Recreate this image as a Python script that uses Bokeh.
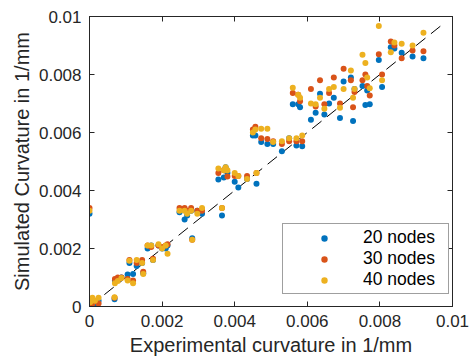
from bokeh.plotting import figure
from bokeh.models import Range1d, LinearAxis, FixedTicker, Legend, LegendItem
from bokeh.embed import file_html
from bokeh.resources import INLINE

# ---- data ----
exp_x = [0.00000, 0.00002, 0.00008, 0.00015, 0.00025, 0.00069, 0.00070, 0.00078,
         0.00088, 0.00105, 0.00110, 0.00120, 0.00130, 0.00145, 0.00148, 0.00160,
         0.00170, 0.00175, 0.00190, 0.00200, 0.00210, 0.00215, 0.00248, 0.00262,
         0.00269, 0.00280, 0.00283, 0.00297, 0.00310, 0.00355, 0.00365, 0.00370,
         0.00375, 0.00380, 0.00400, 0.00410, 0.00434, 0.00450, 0.00457, 0.00460,
         0.00473, 0.00490, 0.00506, 0.00530, 0.00550, 0.00560, 0.00570, 0.00575,
         0.00580, 0.00586, 0.00610, 0.00623, 0.00635, 0.00647, 0.00660, 0.00673,
         0.00690, 0.00700, 0.00720, 0.00726, 0.00730, 0.00752, 0.00760, 0.00765,
         0.00772, 0.00797, 0.00806, 0.00830, 0.00840, 0.00860, 0.00890, 0.00920]

sim_20 = [0.00320, 0.00010, 0.00020, 0.00010, 0.00020, 0.00025, 0.00090, 0.00095,
          0.00100, 0.00110, 0.00150, 0.00112, 0.00140, 0.00150, 0.00115, 0.00200,
          0.00210, 0.00160, 0.00210, 0.00200, 0.00200, 0.00210, 0.00325, 0.00300,
          0.00314, 0.00330, 0.00235, 0.00330, 0.00320, 0.00438, 0.00314, 0.00445,
          0.00480, 0.00460, 0.00430, 0.00410, 0.00440, 0.00590, 0.00590, 0.00423,
          0.00567, 0.00560, 0.00560, 0.00535, 0.00580, 0.00697, 0.00555, 0.00697,
          0.00687, 0.00553, 0.00644, 0.00668, 0.00734, 0.00662, 0.00700, 0.00720,
          0.00650, 0.00776, 0.00790, 0.00640, 0.00750, 0.00760, 0.00695, 0.00745,
          0.00697, 0.00850, 0.00757, 0.00894, 0.00890, 0.00875, 0.00862, 0.00856]

sim_30 = [0.00340, 0.00005, 0.00010, 0.00020, 0.00010, 0.00030, 0.00095, 0.00100,
          0.00100, 0.00095, 0.00160, 0.00090, 0.00150, 0.00160, 0.00120, 0.00210,
          0.00205, 0.00165, 0.00210, 0.00205, 0.00210, 0.00215, 0.00340, 0.00340,
          0.00330, 0.00340, 0.00230, 0.00330, 0.00330, 0.00460, 0.00340, 0.00470,
          0.00470, 0.00448, 0.00450, 0.00450, 0.00450, 0.00610, 0.00620, 0.00460,
          0.00580, 0.00578, 0.00570, 0.00560, 0.00570, 0.00736, 0.00570, 0.00730,
          0.00708, 0.00570, 0.00750, 0.00690, 0.00780, 0.00697, 0.00736, 0.00790,
          0.00700, 0.00820, 0.00780, 0.00687, 0.00740, 0.00780, 0.00800, 0.00760,
          0.00728, 0.00870, 0.00800, 0.00914, 0.00900, 0.00856, 0.00883, 0.00880]

sim_40 = [0.00330, 0.00015, 0.00030, 0.00020, 0.00030, 0.00032, 0.00080, 0.00088,
          0.00098, 0.00090, 0.00158, 0.00080, 0.00160, 0.00150, 0.00112, 0.00210,
          0.00210, 0.00160, 0.00215, 0.00200, 0.00210, 0.00182, 0.00330, 0.00330,
          0.00320, 0.00330, 0.00230, 0.00320, 0.00340, 0.00476, 0.00340, 0.00470,
          0.00480, 0.00470, 0.00460, 0.00450, 0.00440, 0.00600, 0.00610, 0.00460,
          0.00613, 0.00613, 0.00567, 0.00570, 0.00580, 0.00754, 0.00580, 0.00730,
          0.00720, 0.00590, 0.00700, 0.00697, 0.00720, 0.00682, 0.00750, 0.00757,
          0.00685, 0.00750, 0.00814, 0.00720, 0.00750, 0.00868, 0.00840, 0.00790,
          0.00753, 0.00967, 0.00780, 0.00877, 0.00910, 0.00906, 0.00900, 0.00944]

series_names = ["20 nodes", "30 nodes", "40 nodes"]
series_colors = ["#0072BD", "#D95319", "#EDB120"]

ref_line_x = [0.0, 0.00975]
ref_line_y = [0.0, 0.00975]

tick_values = [0.0, 0.002, 0.004, 0.006, 0.008, 0.01]
tick_labels = ["0", "0.002", "0.004", "0.006", "0.008", "0.01"]

FONT = "Liberation Sans"
AX_COLOR = "#262626"

p = figure(frame_width=363, frame_height=290,
           x_range=Range1d(0, 0.01), y_range=Range1d(0, 0.01),
           output_backend="svg", toolbar_location=None,
           min_border_left=89, min_border_top=16, min_border_right=18,
           min_border_bottom=51)
p.grid.visible = False
p.outline_line_color = AX_COLOR
p.outline_line_width = 1
p.background_fill_color = "white"
p.border_fill_color = "white"

def style_axis(ax, labels=True):
    ax.ticker = FixedTicker(ticks=tick_values)
    if labels:
        ax.major_label_overrides = {v: t for v, t in zip(tick_values, tick_labels)}
    else:
        ax.major_label_overrides = {v: "" for v in tick_values}
    ax.major_tick_in = 5
    ax.major_tick_out = 0
    ax.minor_tick_line_color = None
    ax.axis_line_color = AX_COLOR
    ax.major_tick_line_color = AX_COLOR
    ax.major_label_text_font = FONT
    ax.major_label_text_color = AX_COLOR
    ax.major_label_text_font_size = "17px"
    ax.major_label_standoff = 8 if labels else 0
    ax.axis_label_text_font = FONT
    ax.axis_label_text_font_style = "normal"
    ax.axis_label_text_color = AX_COLOR
    ax.axis_label_text_font_size = "20px"

style_axis(p.xaxis[0])
style_axis(p.yaxis[0])
p.xaxis[0].axis_label = "Experimental curvature in 1/mm"
p.yaxis[0].axis_label = "Simulated Curvature in 1/mm"
p.xaxis[0].axis_label_standoff = 4
p.yaxis[0].axis_label_standoff = 3

top_ax = LinearAxis()
right_ax = LinearAxis()
style_axis(top_ax, labels=False)
style_axis(right_ax, labels=False)
p.add_layout(top_ax, "above")
p.add_layout(right_ax, "right")

p.line(ref_line_x, ref_line_y, line_color="black", line_width=1, line_dash="12 7")

renderers = []
for ys, c in zip([sim_20, sim_30, sim_40], series_colors):
    r = p.scatter(exp_x, ys, size=6, fill_color=c, line_color=None)
    renderers.append(r)

legend = Legend(items=[LegendItem(label=n, renderers=[r]) for n, r in zip(series_names, renderers)],
                location=(193, 12), padding=3, spacing=0, glyph_width=76, glyph_height=16,
                label_height=16, label_width=82, label_standoff=1,
                label_text_font=FONT, label_text_font_size="17.5px", label_text_color="black",
                border_line_color="#404040", border_line_width=1,
                background_fill_color="white", background_fill_alpha=1)
p.add_layout(legend, "center")

open("out.html", "w").write(file_html(p, INLINE))
